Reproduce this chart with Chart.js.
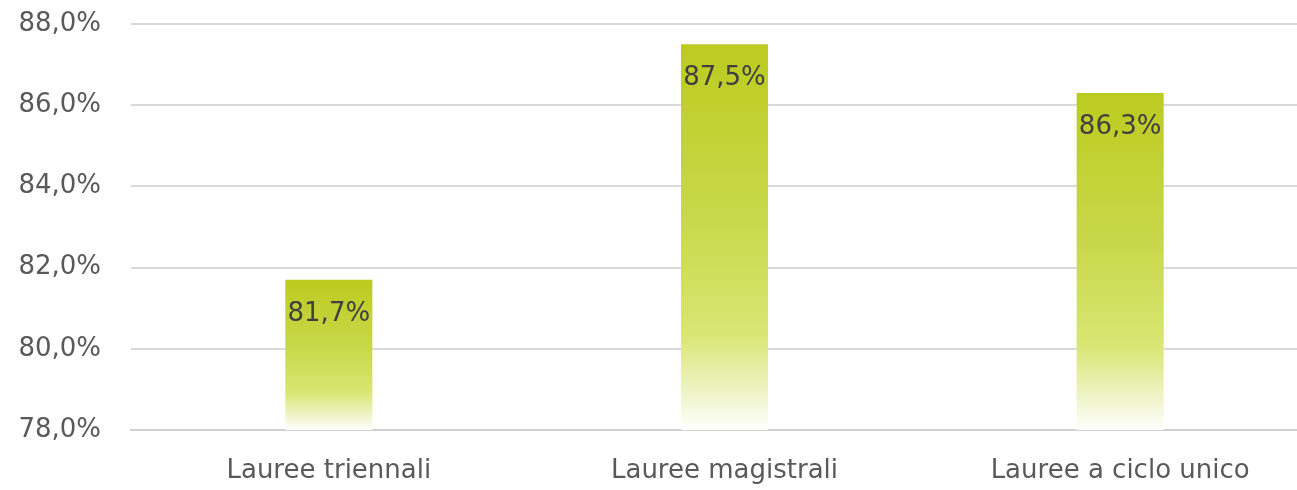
<!DOCTYPE html>
<html>
<head>
<meta charset="utf-8">
<script src="https://cdn.jsdelivr.net/npm/chart.js@4/dist/chart.umd.min.js"></script>
<style>
  html, body { margin: 0; padding: 0; background: #fff; overflow: hidden; }
  #wrap { width: 1318px; height: 490px; }
</style>
</head>
<body>
<div id="wrap"><canvas id="dataChart"></canvas></div>
<script>
const categories = ['Lauree triennali', 'Lauree magistrali', 'Lauree a ciclo unico'];
const values = [81.7, 87.5, 86.3];
const yTicks = [78, 80, 82, 84, 86, 88];

const FONT = '"DejaVu Sans", sans-serif';

function fmt(v, dec) {
    return v.toFixed(dec).replace('.', ',') + '%';
}

function barGradient(context) {
    const chart = context.chart;
    const area = chart.chartArea;
    if (!area) return '#bfcc22';
    const y = chart.scales.y;
    const top = y.getPixelForValue(values[context.dataIndex]);
    const bottom = y.getPixelForValue(y.min);
    const g = chart.ctx.createLinearGradient(0, top, 0, bottom);
    g.addColorStop(0, '#bccb1f');
    g.addColorStop(0.45, '#c9d84a');
    g.addColorStop(0.75, '#d9e673');
    g.addColorStop(0.9, '#eef4c6');
    g.addColorStop(1, '#ffffff');
    return g;
}

const valueLabels = {
    id: 'valueLabels',
    afterDatasetsDraw(chart) {
        const ctx = chart.ctx;
        const meta = chart.getDatasetMeta(0);
        ctx.save();
        ctx.font = '26px ' + FONT;
        ctx.fillStyle = '#404040';
        ctx.textAlign = 'center';
        ctx.textBaseline = 'middle';
        meta.data.forEach((bar, i) => {
            ctx.fillText(fmt(values[i], 1), bar.x, bar.y + 34);
        });
        ctx.restore();
    }
};

new Chart(document.getElementById('dataChart'), {
    type: 'bar',
    data: {
        labels: categories,
        datasets: [{
            data: values,
            backgroundColor: barGradient,
            borderWidth: 0,
            categoryPercentage: 1,
            barPercentage: 0.22
        }]
    },
    options: {
        responsive: true,
        maintainAspectRatio: false,
        animation: false,
        layout: { padding: { top: 24, right: 0, left: 0, bottom: 0 } },
        plugins: {
            legend: { display: false },
            tooltip: { enabled: false }
        },
        scales: {
            y: {
                min: 78,
                max: 88,
                afterBuildTicks: axis => { axis.ticks = yTicks.map(v => ({ value: v })); },
                afterFit: axis => { axis.width = 131; axis.paddingTop = 0; axis.paddingBottom = 0; },
                ticks: {
                    callback: v => fmt(v, 1),
                    color: '#595959',
                    font: { family: FONT, size: 26 },
                    padding: 30
                },
                grid: { color: '#d9d9d9', lineWidth: 2, drawTicks: false },
                border: { display: false }
            },
            x: {
                afterFit: axis => { axis.height = 60; },
                ticks: {
                    color: '#595959',
                    font: { family: FONT, size: 26 },
                    padding: 18
                },
                grid: { display: false },
                border: { color: '#d0d0d0', width: 2 }
            }
        }
    },
    plugins: [valueLabels]
});
</script>
</body>
</html>
